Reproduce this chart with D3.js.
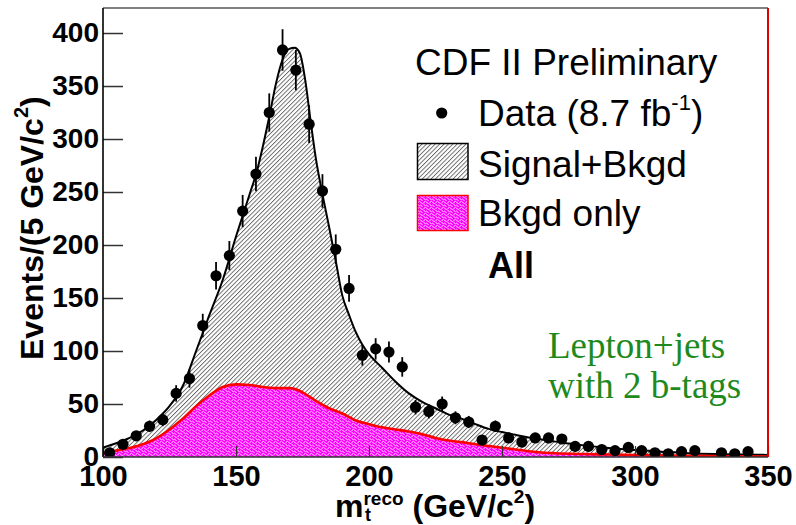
<!DOCTYPE html>
<html>
<head>
<meta charset="utf-8">
<script src="https://cdn.jsdelivr.net/npm/d3@7"></script>
<style>
  html, body { margin: 0; padding: 0; background: #fff; }
  svg { display: block; }
</style>
</head>
<body>
<svg id="chart" width="796" height="525"></svg>
<script>
// Reconstructed top-quark mass, 5 GeV/c^2 bins (bin centres)
const massBins = [102.5,107.5,112.5,117.5,122.5,127.5,132.5,137.5,142.5,147.5,
                  152.5,157.5,162.5,167.5,172.5,177.5,182.5,187.5,192.5,197.5,
                  202.5,207.5,212.5,217.5,222.5,227.5,232.5,237.5,242.5,247.5,
                  252.5,257.5,262.5,267.5,272.5,277.5,282.5,287.5,292.5,297.5,
                  302.5,307.5,312.5,317.5,322.5,332.5,337.5,342.5];
// Observed events per bin
const dataCounts = [4,12,20,29,35,60,74,124,171,190,
                    232,267,325,384,365,314,251,196,159,96,
                    102,99,85,47,43,50,37,33,16,29,
                    18,14,18,18,17,10,10,7,6,9,
                    6,4,3,5,6,4,3,5];

// Signal + background expectation
const fitMass  = [100,105,110,115,120,125,130,135,140,145,150,155,158,160,162.5,165,167.5,170,172,174,176,178,180,182.5,185,187.5,190,192.5,195,197.5,200,205,210,215,220,225,230,235,240,245,250,255,260,265,270,275,280,290,300,310,320,330,340,350];
const fitTotal = [9,13,18,25,35,48,67,100,134,167,208,247,271,292,321,352,375,385,386,381,356,318,282,248,217,185,152,134,118,106,97,84,71,60,52,46,40,36,31,26.5,23.5,21,18.5,16.5,14.5,12.8,11.2,8.5,6.5,5,3.6,2.8,2.3,2];

// Background-only expectation
const bkgMass = [100,105,110,115,120,125,130,135,140,145,150,155,160,165,170,172.5,175,180,185,190,195,200,205,210,215,220,225,230,235,240,245,250,255,260,265,270,280,290,300,320,350];
const bkgOnly = [3.5,6,8.5,12,17.6,26,36,48,58,66,68.5,68,66,65,65,64,61,53,46,41,34.5,31,28,26,24,21.5,18,15.5,14,12,10.4,8.8,7,5.5,4.3,3.6,2.8,2.3,1.9,1.1,0.5];

const xTicks = [100,150,200,250,300,350];
const yTicks = [0,50,100,150,200,250,300,350,400];

const sans = "Liberation Sans, Arial, Helvetica, sans-serif";
const serif = "Liberation Serif, Times New Roman, serif";

const svg = d3.select("#chart").attr("font-family", sans);

const x = d3.scaleLinear().domain([100, 350]).range([103, 768]);
const y = d3.scaleLinear().domain([0, 423.6]).range([457, 8]);
const [x0, x1] = x.range();
const [yb, yt] = y.range();

// Fill patterns
const defs = svg.append("defs");
const hatch = defs.append("pattern")
  .attr("id", "hatch").attr("patternUnits", "userSpaceOnUse")
  .attr("width", 3.1).attr("height", 3.1)
  .attr("patternTransform", "rotate(45)");
hatch.append("rect").attr("width", 3.1).attr("height", 3.1).attr("fill", "#fff");
hatch.append("line").attr("x1", 0.5).attr("y1", 0).attr("x2", 0.5).attr("y2", 3.1)
  .attr("stroke", "#444").attr("stroke-width", 0.75);

const weave = defs.append("pattern")
  .attr("id", "weave").attr("patternUnits", "userSpaceOnUse")
  .attr("width", 6).attr("height", 6);
weave.append("rect").attr("width", 6).attr("height", 6).attr("fill", "#ff00ff");
weave.append("path").attr("d", "M0,0.5 L2.5,3 M3,5.5 L5.5,3 M3.5,0 L6,2.5 M0,3.5 L2.5,6")
  .attr("stroke", "#ffffff").attr("stroke-width", 0.95).attr("fill", "none");

defs.append("clipPath").attr("id", "frameClip")
  .append("rect").attr("x", x0).attr("y", yt).attr("width", x1 - x0).attr("height", yb - yt);

const plot = svg.append("g").attr("clip-path", "url(#frameClip)");

const totalPts = fitMass.map((m, i) => [m, fitTotal[i]]);
const bkgPts = bkgMass.map((m, i) => [m, bkgOnly[i]]);

const area = d3.area().x(d => x(d[0])).y0(y(0)).y1(d => y(d[1])).curve(d3.curveMonotoneX);
const line = d3.line().x(d => x(d[0])).y(d => y(d[1])).curve(d3.curveMonotoneX);

plot.append("path").attr("d", area(totalPts)).attr("fill", "url(#hatch)");
plot.append("path").attr("d", line(totalPts)).attr("fill", "none")
  .attr("stroke", "#000").attr("stroke-width", 2);
plot.append("path").attr("d", area(bkgPts)).attr("fill", "url(#weave)");
plot.append("path").attr("d", line(bkgPts)).attr("fill", "none")
  .attr("stroke", "#ff0000").attr("stroke-width", 2.6);

// Data points with Poisson error bars
const pts = massBins.map((m, i) => ({ m, n: dataCounts[i] }));
plot.selectAll("line.err").data(pts).join("line")
  .attr("class", "err")
  .attr("x1", d => x(d.m)).attr("x2", d => x(d.m))
  .attr("y1", d => y(d.n - Math.sqrt(d.n))).attr("y2", d => y(d.n + Math.sqrt(d.n)))
  .attr("stroke", "#000").attr("stroke-width", 1.8);
plot.selectAll("circle.pt").data(pts).join("circle")
  .attr("class", "pt")
  .attr("cx", d => x(d.m)).attr("cy", d => y(d.n)).attr("r", 5.6)
  .attr("fill", "#000");

// Axes (ticks point into the frame)
const yAxis = svg.append("g").attr("transform", `translate(${x0},0)`)
  .call(d3.axisLeft(y).tickValues(yTicks).tickSize(-20).tickPadding(4).tickSizeOuter(0));
yAxis.select(".domain").remove();
yAxis.selectAll(".tick line").attr("stroke", "#333").attr("stroke-width", 1.5);
yAxis.selectAll(".tick text")
  .attr("font-size", 28).attr("font-weight", "bold").attr("fill", "#000")
  .attr("font-family", sans);

const xAxis = svg.append("g").attr("transform", `translate(0,${yb})`)
  .call(d3.axisBottom(x).tickValues(xTicks).tickSize(-11).tickPadding(8).tickSizeOuter(0));
xAxis.select(".domain").remove();
xAxis.selectAll(".tick line").attr("stroke", "#333").attr("stroke-width", 1.2);
xAxis.selectAll(".tick text")
  .attr("font-size", 29).attr("font-weight", "bold").attr("fill", "#000")
  .attr("font-family", sans);

// Frame
svg.append("line").attr("x1", x0).attr("x2", x1).attr("y1", yt).attr("y2", yt)
  .attr("stroke", "#808080").attr("stroke-width", 2);
svg.append("line").attr("x1", x0).attr("x2", x0).attr("y1", yt).attr("y2", yb)
  .attr("stroke", "#000").attr("stroke-width", 1.6);
svg.append("line").attr("x1", x0).attr("x2", x1).attr("y1", yb).attr("y2", yb)
  .attr("stroke", "#333").attr("stroke-width", 1.6);
svg.append("line").attr("x1", x1).attr("x2", x1).attr("y1", yt).attr("y2", yb)
  .attr("stroke", "#e00000").attr("stroke-width", 2);

// Axis titles
const xt = svg.append("text").attr("x", 335).attr("y", 517)
  .attr("font-size", 32).attr("font-weight", "bold");
xt.append("tspan").text("m");
xt.append("tspan").attr("font-size", 19).attr("dy", -12).text("reco");
xt.append("tspan").attr("dy", 12).text(" (GeV/c");
xt.append("tspan").attr("font-size", 19).attr("dy", -14).text("2");
xt.append("tspan").attr("dy", 14).text(")");
svg.append("text").attr("x", 365).attr("y", 521)
  .attr("font-size", 18).attr("font-weight", "bold").text("t");

const yt2 = svg.append("text")
  .attr("transform", "translate(43,360) rotate(-90)")
  .attr("font-size", 32).attr("font-weight", "bold");
yt2.append("tspan").text("Events/(5 GeV/c");
yt2.append("tspan").attr("font-size", 20).attr("dy", -15).text("2");
yt2.append("tspan").attr("dy", 15).text(")");

// Legend
svg.append("text").attr("x", 415).attr("y", 75).attr("font-size", 37).text("CDF II Preliminary");
svg.append("circle").attr("cx", 441.7).attr("cy", 113).attr("r", 5.6).attr("fill", "#000");
const dt = svg.append("text").attr("x", 478).attr("y", 126).attr("font-size", 37);
dt.append("tspan").text("Data (8.7 fb");
dt.append("tspan").attr("font-size", 22).attr("dy", -16).text("-1");
dt.append("tspan").attr("dy", 16).text(")");

svg.append("rect").attr("x", 417.5).attr("y", 143.5).attr("width", 50.5).attr("height", 36)
  .attr("fill", "url(#hatch)").attr("stroke", "#000").attr("stroke-width", 1.5);
svg.append("text").attr("x", 478).attr("y", 177).attr("font-size", 37).text("Signal+Bkgd");

svg.append("rect").attr("x", 417.5).attr("y", 195.5).attr("width", 50.5).attr("height", 35)
  .attr("fill", "url(#weave)").attr("stroke", "#ff0000").attr("stroke-width", 1.5);
svg.append("text").attr("x", 478).attr("y", 226).attr("font-size", 37).text("Bkgd only");

svg.append("text").attr("x", 488).attr("y", 278).attr("font-size", 36)
  .attr("font-weight", "bold").text("All");

// Channel label
const green = "#1e8a1e";
svg.append("text").attr("x", 548).attr("y", 358).attr("font-size", 37)
  .attr("font-family", serif).attr("fill", green).text("Lepton+jets");
svg.append("text").attr("x", 548).attr("y", 398).attr("font-size", 37)
  .attr("font-family", serif).attr("fill", green).text("with 2 b-tags");
</script>
</body>
</html>
